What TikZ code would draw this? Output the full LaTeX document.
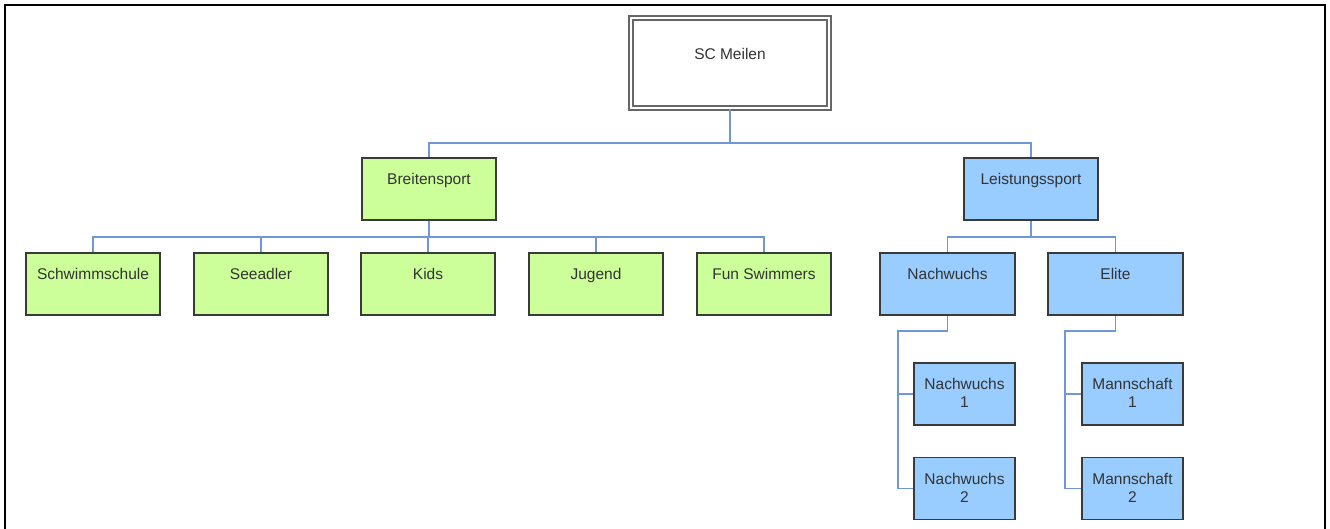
\documentclass[tikz,border=0pt]{standalone}
\usepackage{fontspec}
\setmainfont{Liberation Sans}
\definecolor{boxline}{HTML}{3A3A3A}
\definecolor{txtgrey}{HTML}{333333}
\definecolor{greenfill}{HTML}{CCFF99}
\definecolor{bluefill}{HTML}{99CCFF}
\definecolor{connblue}{HTML}{7096D8}
\tikzset{
    orgbox/.style={draw=boxline, line width=1.5pt, minimum width=134pt, minimum height=62pt, inner sep=0pt},
    gbox/.style={orgbox, fill=greenfill},
    bbox/.style={orgbox, fill=bluefill},
    smallbox/.style={bbox, minimum width=101pt},
    lbl/.style={anchor=north, yshift=-12pt, align=center, text=txtgrey, inner sep=4pt,
        font=\fontsize{15.5}{18}\selectfont},
    conn/.style={draw=connblue, line width=1.8pt}
}
\begin{document}
\begin{tikzpicture}[x=1pt, y=-1pt]
    \clip (0,0) rectangle (1330,529);
    \useasboundingbox (0,0) rectangle (1330,529);
    % frame
    \draw[line width=2pt] (5,540) -- (5,5) -- (1325,5) -- (1325,540);

    % club
    \node[draw=gray!80!black, double=white, double distance=2pt, line width=1.6pt,
        minimum width=198pt, minimum height=90pt, inner sep=0pt,
        label={[lbl, name=clubtxt, yshift=-15pt]north:SC Meilen}] (club) at (730,63) {};

    % first level
    \node[gbox, label={[lbl, name=breittxt]north:Breitensport}] (breit) at (429,189) {};
    \node[bbox, label={[lbl, name=leisttxt]north:Leistungssport}] (leist) at (1031,189) {};

    % Breitensport groups
    \node[gbox, label={[lbl, name=schtxt]north:Schwimmschule}] (sch) at (93,284) {};
    \node[gbox, label={[lbl, name=seetxt]north:Seeadler}] (see) at (261,284) {};
    \node[gbox, label={[lbl, name=kidstxt]north:Kids}] (kids) at (428,284) {};
    \node[gbox, label={[lbl, name=jugtxt]north:Jugend}] (jug) at (596,284) {};
    \node[gbox, label={[lbl, name=funtxt]north:Fun Swimmers}] (fun) at (764,284) {};

    % Leistungssport groups
    \node[bbox, minimum width=135pt, label={[lbl, name=nachtxt]north:Nachwuchs}] (nach) at (947.5,284) {};
    \node[bbox, minimum width=135pt, label={[lbl, name=elitetxt]north:Elite}] (elite) at (1115.5,284) {};
    \node[smallbox, label={[lbl, name=naonetxt]north:Nachwuchs\\1}] (naone) at (964.5,394) {};
    \node[smallbox, label={[lbl, name=natwotxt]north:Nachwuchs\\2}] (natwo) at (964.5,488.5) {};
    \node[smallbox, label={[lbl, name=maonetxt]north:Mannschaft\\1}] (maone) at (1132.5,394) {};
    \node[smallbox, label={[lbl, name=matwotxt]north:Mannschaft\\2}] (matwo) at (1132.5,488.5) {};

    % connectors
    \coordinate (clubbar) at (730,143);
    \draw[conn] (club.south) -- (clubbar) -| (breit.north);
    \draw[conn] (clubbar) -| (leist.north);
    \foreach \kid in {sch,see,kids,jug,fun}
        \draw[conn] (breit.south) -- (breit.south |- 0,237) -| (\kid.north);
    \draw[conn] (leist.south) -- (leist.south |- 0,237) -| (nach.north);
    \draw[conn] (leist.south) -- (leist.south |- 0,237) -| (elite.north);
    \coordinate (nachrail) at (898,331);
    \coordinate (eliterail) at (1065,331);
    \draw[conn] (nach.south) |- (nachrail) |- (natwo.west);
    \draw[conn] (nachrail) |- (naone.west);
    \draw[conn] (elite.south) |- (eliterail) |- (matwo.west);
    \draw[conn] (eliterail) |- (maone.west);
\end{tikzpicture}
\end{document}
